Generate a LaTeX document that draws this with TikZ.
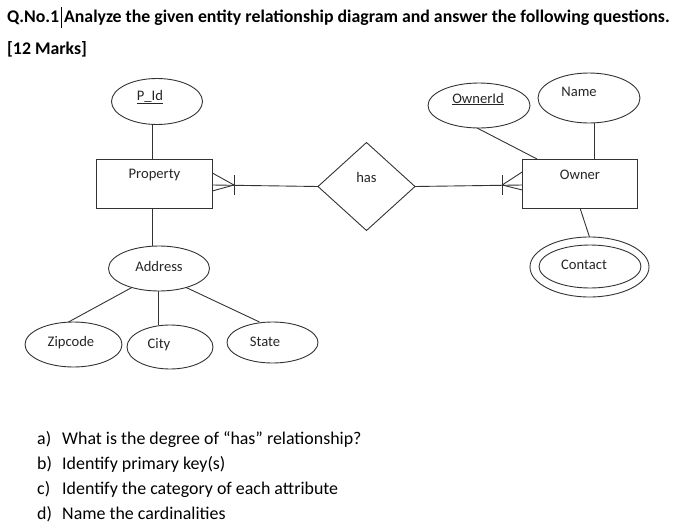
\documentclass[tikz,border=0pt]{standalone}
\usepackage{fontspec}
\setmainfont{Carlito}
\usetikzlibrary{shapes.geometric,calc}
\begin{document}
\begin{tikzpicture}[x=1pt,y=-1pt,
  ln/.style={draw=black!80,line width=0.9pt},
  attr/.style={ellipse,ln,inner sep=0pt,outer sep=0pt},
  ent/.style={rectangle,ln,inner sep=0pt,outer sep=0pt,minimum width=115.6pt,minimum height=49pt},
  rel/.style={diamond,ln,inner sep=0pt,outer sep=0pt,minimum width=97pt,minimum height=88pt},
  lbl/.style={font=\fontsize{14.6}{16}\selectfont,inner sep=0pt,text=black!85},
  qtxt/.style={font=\fontsize{17.9}{20}\selectfont,inner sep=0pt,anchor=base west},
  ttl/.style={font=\bfseries\fontsize{17.8}{20}\selectfont,inner sep=0pt,anchor=base west}]
\useasboundingbox (0,0) rectangle (691,530);
% title
\node[ttl] (t1) at (7,22) {Q.No.1};
\coordinate (cur) at ($(t1.east)+(1.5,0)$);
\draw[black,line width=0.7pt] ([yshift=-11]cur) -- ([yshift=10]cur);
\node[ttl] (t2) at ($(t1.base east)+(4.5,0)$) {Analyze the given entity relationship diagram and answer the following questions.};
\node[ttl] (t3) at (7,54) {[12 Marks]};
% entities
\node[ent] (prop) at (154.5,183.5) {};
\node[lbl] (propl) at (154.5,175) {Property};
\node[ent] (own) at (580,183.5) {};
\node[lbl] (ownl) at (580,175) {Owner};
% relationship
\node[rel] (has) at (366.5,186.5) {};
\node[lbl] (hasl) at (366.5,177) {has};
% attributes
\node[attr,minimum width=91pt,minimum height=46pt] (pid) at (157,101.5) {};
\node[lbl] (pidl) at (150,97) {\underline{P\_Id}};
\node[attr,minimum width=101pt,minimum height=45pt] (adr) at (159,268.5) {};
\node[lbl] (adrl) at (159,266) {Address};
\node[attr,minimum width=97pt,minimum height=45pt] (zip) at (73.5,344.5) {};
\node[lbl] (zipl) at (71,343) {Zipcode};
\node[attr,minimum width=86pt,minimum height=44pt] (city) at (170,347) {};
\node[lbl] (cityl) at (159,345) {City};
\node[attr,minimum width=91pt,minimum height=41pt] (st) at (272.5,342.5) {};
\node[lbl] (stl) at (265,342) {State};
\node[attr,minimum width=102pt,minimum height=45pt] (oid) at (479,105.5) {};
\node[lbl] (oidl) at (478,99) {\underline{OwnerId}};
\node[attr,minimum width=102pt,minimum height=50pt] (nm) at (589,98) {};
\node[lbl] (nml) at (579,92) {Name};
\node[attr,minimum width=119pt,minimum height=60pt] (con) at (589.5,267) {};
\node[attr,minimum width=102pt,minimum height=43pt] (coni) at (590,266.5) {};
\node[lbl] (conl) at (584,265) {Contact};
% attribute connectors
\coordinate (pa) at ([xshift=-2.5pt]prop.north);
\draw[ln] (pa) -- (pa |- pid.south);
\coordinate (pb) at ([xshift=-2.5pt]prop.south);
\draw[ln] (pb) -- (pb |- adr.north);
\draw[ln] (adr.-145) -- ([xshift=-5pt]zip.north);
\coordinate (cb) at (158,0);
\draw[ln] (cb |- adr.south) -- (cb |- city.north);
\draw[ln] (adr.-35) -- ([xshift=-13pt]st.north);
\draw[ln] ([xshift=-43pt]own.north) -- (oid.-95);
\coordinate (nb) at ([xshift=14pt]own.north);
\draw[ln] (nb) -- (nb |- nm.south);
\draw[ln] (own.south) -- (con.north);
% relationship connectors with crow's feet
\coordinate (pfoot) at ($(prop.east)+(21.7,1.5)$);
\draw[ln] (has.west) -- (pfoot -| prop.east);
\draw[ln] ([yshift=-7.5pt]prop.east) -- (pfoot) -- ([yshift=10.5pt]prop.east);
\draw[ln] ([yshift=-10pt]pfoot) -- ([yshift=10pt]pfoot);
\coordinate (ofoot) at ($(own.west)+(-20,1.5)$);
\draw[ln] (has.east) -- (ofoot -| own.west);
\draw[ln] ([yshift=-6.5pt]own.west) -- (ofoot) -- ([yshift=11.5pt]own.west);
\draw[ln] ([yshift=-10pt]ofoot) -- ([yshift=10pt]ofoot);
% questions
\node[qtxt] (qa) at (37,444) {a)};
\node[qtxt] (qat) at (62,444) {What is the degree of “has” relationship?};
\node[qtxt] (qb) at (37,469) {b)};
\node[qtxt] (qbt) at (62,469) {Identify primary key(s)};
\node[qtxt] (qc) at (37,494) {c)};
\node[qtxt] (qct) at (62,494) {Identify the category of each attribute};
\node[qtxt] (qd) at (37,519) {d)};
\node[qtxt] (qdt) at (62,519) {Name the cardinalities};
\end{tikzpicture}
\end{document}
